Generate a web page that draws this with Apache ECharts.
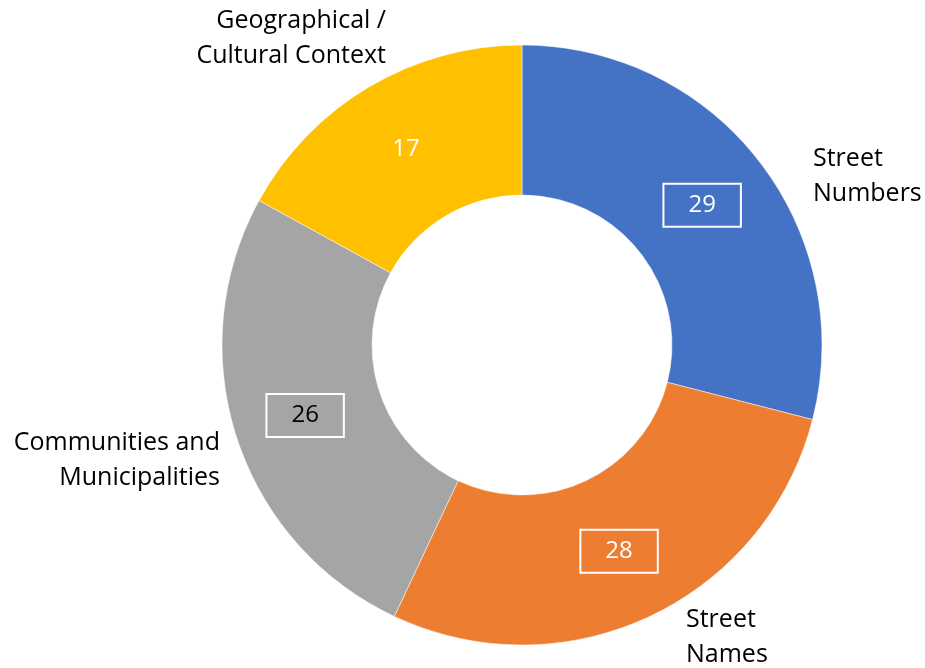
<!DOCTYPE html>
<html>
<head>
<meta charset="utf-8">
<script src="https://cdn.jsdelivr.net/npm/echarts@6/dist/echarts.min.js"></script>
<style>
  html, body { margin: 0; padding: 0; background: #fff; }
  #chart { width: 925px; height: 668px; }
</style>
</head>
<body>
<div id="chart"></div>
<script>
// data
const categories = ['Street\nNumbers', 'Street\nNames', 'Communities and\nMunicipalities', 'Geographical /\nCultural Context']
const values = [29, 28, 26, 17]
const colors = ['#4472C4', '#ED7D31', '#A5A5A5', '#FFC000']
const valueTextColors = ['#fff', '#fff', '#000', '#fff']
const boxed = [true, true, true, false]

// where the category labels sit (pixels)
const namePos = [
  { x: 813, y: 176, align: 'left' },
  { x: 686, y: 637, align: 'left' },
  { x: 220, y: 460, align: 'right' },
  { x: 386, y: 38, align: 'right' }
]

const font = '"Open Sans", Lato, sans-serif'

const chart = echarts.init(document.getElementById('chart'))

const valueData = values.map((v, i) => ({
  value: v,
  name: categories[i],
  itemStyle: { color: colors[i] },
  label: {
    color: valueTextColors[i],
    borderColor: boxed[i] ? '#fff' : 'transparent',
    borderWidth: boxed[i] ? 2 : 0
  }
}))

const nameData = values.map((v, i) => ({ value: v, name: categories[i] }))

chart.setOption({
  animation: false,
  series: [
    {
      type: 'pie',
      center: [522, 345],
      radius: [150, 300],
      startAngle: 90,
      clockwise: true,
      silent: true,
      itemStyle: { borderColor: '#fff', borderWidth: 0.5 },
      label: {
        show: true,
        position: 'inside',
        formatter: '{c}',
        fontFamily: font,
        fontSize: 24,
        lineHeight: 26,
        padding: [10, 25, 7, 25]
      },
      labelLine: { show: false },
      data: valueData
    },
    {
      type: 'pie',
      center: [522, 345],
      radius: [150, 300],
      startAngle: 90,
      clockwise: true,
      silent: true,
      itemStyle: { color: 'transparent' },
      label: {
        show: true,
        position: 'outside',
        formatter: '{b}',
        fontFamily: font,
        fontSize: 25,
        lineHeight: 35,
        overflow: 'none',
        color: '#000'
      },
      labelLine: { show: false },
      labelLayout: function (params) {
        const p = namePos[params.dataIndex]
        return { x: p.x, y: p.y, align: p.align, verticalAlign: 'middle' }
      },
      data: nameData
    }
  ]
})
</script>
</body>
</html>
